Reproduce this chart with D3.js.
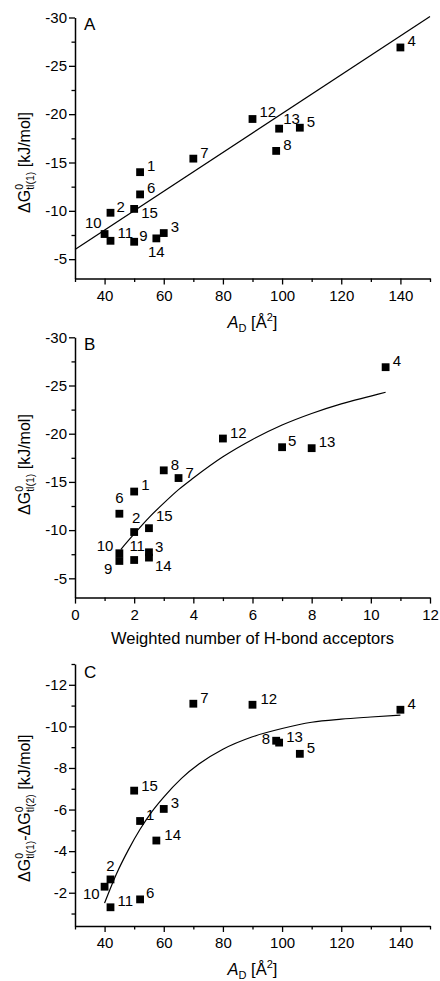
<!DOCTYPE html>
<html>
<head>
<meta charset="utf-8">
<script src="https://cdn.jsdelivr.net/npm/d3@7"></script>
<style>
body { margin: 0; background: #fff; }
svg text { font-family: "Liberation Sans", Arial, sans-serif; fill: #000; }
</style>
</head>
<body>
<script>
// compound numbers
const ids = [1, 2, 3, 4, 5, 6, 7, 8, 9, 10, 11, 12, 13, 14, 15];
// A_D [Å²]
const areaD = [52, 42, 60, 140, 106, 52, 70, 98, 50, 40, 42, 90, 99, 57.5, 50];
// weighted number of H-bond acceptors
const hbAcceptors = [2, 2, 2.5, 10.5, 7, 1.5, 3.5, 3, 1.5, 1.5, 2, 5, 8, 2.5, 2.5];
// ΔG0 tl(1) [kJ/mol]
const dG1 = [-14.0, -9.8, -7.7, -26.9, -18.6, -11.7, -15.4, -16.2, -6.8, -7.6, -6.9, -19.5, -18.5, -7.15, -10.2];
// ΔG0 tl(1) - ΔG0 tl(2) [kJ/mol]  (no value for 9)
const dGdiff = [-5.45, -2.64, -6.03, -10.8, -8.68, -1.68, -11.09, -9.31, null, -2.29, -1.3, -11.04, -9.22, -4.51, -6.91];

// fitted curves
const fitAx = [30, 150];
const fitAy = [-6.0, -30.1];
const fitBx = [1.55, 2, 2.5, 3, 3.5, 4, 5, 6, 7, 8, 9, 10, 10.5];
const fitBy = [-8.0, -9.6, -11.3, -12.8, -14.2, -15.4, -17.6, -19.4, -20.9, -22.1, -23.1, -23.9, -24.3];
const fitCx = [40, 44, 48, 52, 56, 60, 66, 72, 80, 90, 100, 110, 120, 130, 140];
const fitCy = [-1.5, -2.9, -4.05, -5.05, -5.9, -6.6, -7.5, -8.2, -8.9, -9.5, -9.9, -10.2, -10.35, -10.45, -10.54];

// ticks
const ticksAD = [40, 60, 80, 100, 120, 140];
const minorAD = [30, 50, 70, 90, 110, 130, 150];
const ticksHB = [0, 2, 4, 6, 8, 10, 12];
const minorHB = [1, 3, 5, 7, 9, 11];
const ticksG = [-30, -25, -20, -15, -10, -5];
const minorG = [-27.5, -22.5, -17.5, -12.5, -7.5];
const ticksDiff = [-12, -10, -8, -6, -4, -2];
const minorDiff = [-13, -11, -9, -7, -5, -3, -1];

const width = 440, height = 981;
const left = 75, right = 430;

const svg = d3.select("body").append("svg")
    .attr("width", width)
    .attr("height", height);

// label placement: id -> [dx, dy, anchor]
const labelsA = {
    1: [7, -1], 2: [6, -1], 3: [7, -1], 4: [7, -1], 5: [7, -1], 6: [7, -1], 7: [7, -1],
    8: [7, -1], 9: [5, -1], 10: [-3, -6, "end"], 11: [7, -3], 12: [7, -2], 13: [4, -5],
    14: [0, 18.5, "middle"], 15: [7, 9]
};
const labelsB = {
    1: [7, -2], 2: [2, -9, "middle"], 3: [6, 0], 4: [7, -1], 5: [6, -1], 6: [0, -11, "middle"],
    7: [7, 0], 8: [7, 0], 9: [-7, 13, "end"], 10: [-6, -2, "end"], 11: [3, -9, "middle"],
    12: [7, -1], 13: [7, -1], 14: [6, 13], 15: [7, -7]
};
const labelsC = {
    1: [6, -1], 2: [0, -8, "middle"], 3: [7, -1], 4: [7, -1], 5: [7, -1], 6: [6, -1],
    7: [7, -1], 8: [-6, 3, "end"], 10: [-5, 12, "end"], 11: [7, -1], 12: [8, -1],
    13: [7, -1], 14: [8, -1], 15: [7, 0]
};

const panels = [
    {
        letter: "A", letterY: 30,
        xs: areaD, ys: dG1, labels: labelsA,
        xDomain: [30, 150], yDomain: [-3, -30], yRange: [278.5, 17.5],
        xTicks: ticksAD, xMinor: minorAD, yTicks: ticksG, yMinor: minorG,
        fit: d3.zip(fitAx, fitAy), curved: false,
        xTitle: "AD", xTitleY: 328, yTitle: ["(1)"], yTitleStart: 213
    },
    {
        letter: "B", letterY: 350,
        xs: hbAcceptors, ys: dG1, labels: labelsB,
        xDomain: [0, 12], yDomain: [-3, -30], yRange: [597.6, 337.3],
        xTicks: ticksHB, xMinor: minorHB, yTicks: ticksG, yMinor: minorG,
        fit: d3.zip(fitBx, fitBy), curved: true,
        xTitle: "Weighted number of H-bond acceptors", xTitleY: 644, yTitle: ["(1)"], yTitleStart: 515
    },
    {
        letter: "C", letterY: 678,
        xs: areaD, ys: dGdiff, labels: labelsC,
        xDomain: [30, 150], yDomain: [-0.4, -13], yRange: [926, 664],
        xTicks: ticksAD, xMinor: minorAD, yTicks: ticksDiff, yMinor: minorDiff,
        fit: d3.zip(fitCx, fitCy), curved: true,
        xTitle: "AD", xTitleY: 975, yTitle: ["(1)", "(2)"], yTitleStart: 882
    }
];

panels.forEach(drawPanel);

function drawPanel(p) {
    const x = d3.scaleLinear().domain(p.xDomain).range([left, right]);
    const y = d3.scaleLinear().domain(p.yDomain).range(p.yRange);
    const bottom = p.yRange[0];
    const g = svg.append("g");

    // minor ticks first
    g.append("g")
        .attr("transform", `translate(0,${bottom})`)
        .call(d3.axisBottom(x).tickValues(p.xMinor).tickSize(3.5).tickFormat(""))
        .call(a => a.select(".domain").remove());
    g.append("g")
        .attr("transform", `translate(${left},0)`)
        .call(d3.axisLeft(y).tickValues(p.yMinor).tickSize(3.5).tickFormat(""))
        .call(a => a.select(".domain").remove());

    g.append("g")
        .attr("transform", `translate(0,${bottom})`)
        .call(d3.axisBottom(x).tickValues(p.xTicks).tickSize(6).tickSizeOuter(0)
            .tickPadding(5.5).tickFormat(d => String(d)));
    g.append("g")
        .attr("transform", `translate(${left},0)`)
        .call(d3.axisLeft(y).tickValues(p.yTicks).tickSize(6).tickSizeOuter(0)
            .tickPadding(2).tickFormat(d => String(d)));

    g.selectAll(".tick text").attr("font-size", 15).attr("font-family", null);
    g.selectAll(".domain").attr("stroke-width", 1.5);
    g.selectAll(".tick line").attr("stroke-width", 1.3);

    // fit line
    const line = d3.line()
        .x(d => x(d[0]))
        .y(d => y(d[1]))
        .curve(p.curved ? d3.curveMonotoneX : d3.curveLinear);
    g.append("path")
        .datum(p.fit)
        .attr("fill", "none")
        .attr("stroke", "#000")
        .attr("stroke-width", 1.2)
        .attr("d", line);

    // points
    const pts = ids.map((id, i) => ({ id, vx: p.xs[i], vy: p.ys[i] }))
        .filter(d => d.vy != null);
    const sz = 7.8;
    g.append("g").selectAll("rect")
        .data(pts)
        .join("rect")
        .attr("x", d => x(d.vx) - sz / 2)
        .attr("y", d => y(d.vy) - sz / 2)
        .attr("width", sz)
        .attr("height", sz)
        .attr("fill", "#000");

    g.append("g").selectAll("text")
        .data(pts)
        .join("text")
        .attr("x", d => x(d.vx) + p.labels[d.id][0])
        .attr("y", d => y(d.vy) + p.labels[d.id][1])
        .attr("text-anchor", d => p.labels[d.id][2] || "start")
        .attr("font-size", 15)
        .text(d => d.id);

    // panel letter
    g.append("text")
        .attr("x", 84)
        .attr("y", p.letterY)
        .attr("font-size", 17)
        .text(p.letter);

    // x title
    const xt = g.append("text")
        .attr("x", (left + right) / 2)
        .attr("y", p.xTitleY)
        .attr("text-anchor", "middle")
        .attr("font-size", 16.5);
    if (p.xTitle === "AD") {
        xt.append("tspan").attr("font-style", "italic").text("A");
        xt.append("tspan").attr("font-size", 11).attr("dy", 4).text("D");
        xt.append("tspan").attr("dy", -4).text(" [Å");
        xt.append("tspan").attr("font-size", 11).attr("dy", -7).text("2");
        xt.append("tspan").attr("dy", 7).text("]");
    } else {
        xt.text(p.xTitle);
    }

    // y title (rotated), 0 stacked over the tl(n) subscript
    const yt = g.append("text")
        .attr("transform", `translate(30,${p.yTitleStart}) rotate(-90)`)
        .attr("font-size", 16);
    p.yTitle.forEach((sub, k) => {
        yt.append("tspan").attr("dy", k === 0 ? 0 : -4).text(k === 0 ? "ΔG" : "-ΔG");
        yt.append("tspan").attr("font-size", 10.5).attr("dy", -7).text("0");
        yt.append("tspan").attr("font-size", 10.5).attr("dx", -5.8).attr("dy", 11).text("tl" + sub);
    });
    yt.append("tspan").attr("dy", -4).text(" [kJ/mol]");
}
</script>
</body>
</html>
